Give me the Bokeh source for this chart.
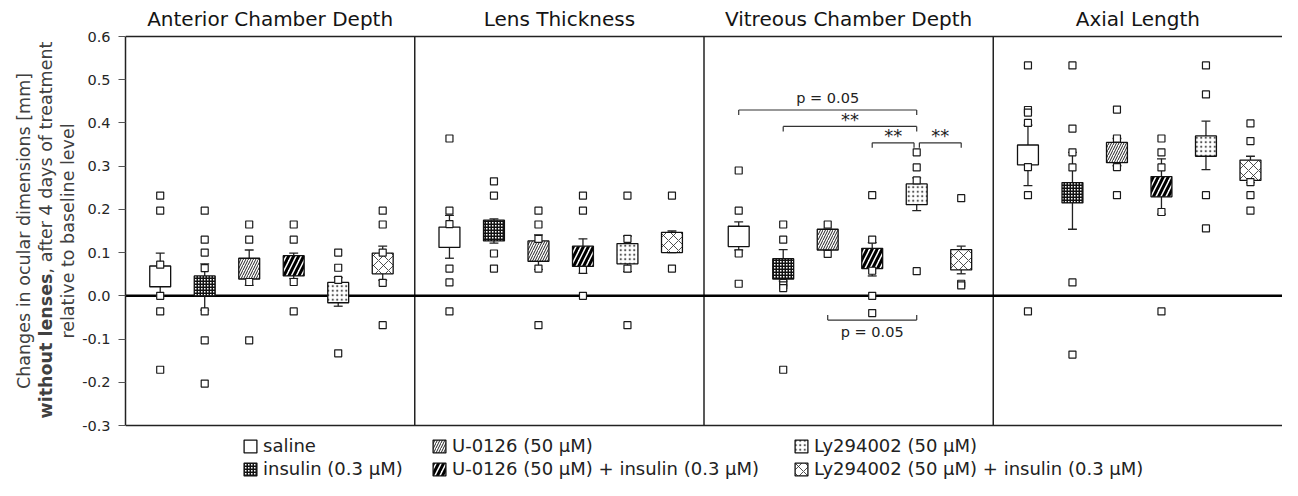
from math import pi
from bokeh.plotting import figure
from bokeh.layouts import row
from bokeh.models import (ColumnDataSource, Range1d, FixedTicker, PrintfTickFormatter,
                          Legend, LegendItem)
from bokeh.core.properties import value
from bokeh.embed import file_html
from bokeh.resources import INLINE

# ---------------- data ----------------
panel_titles = ["Anterior Chamber Depth", "Lens Thickness", "Vitreous Chamber Depth", "Axial Length"]
group_labels = ["saline", "insulin (0.3 μM)", "U-0126 (50 μM)",
                "U-0126 (50 μM) + insulin (0.3 μM)", "Ly294002 (50 μM)",
                "Ly294002 (50 μM) + insulin (0.3 μM)"]
y_ticks = [-0.3, -0.2, -0.1, 0.0, 0.1, 0.2, 0.3, 0.4, 0.5, 0.6]
y_title_lines = ["Changes in ocular dimensions [mm]",
                 "without lenses", ", after 4 days of treatment",
                 "relative to baseline level"]

acd_box_low = [0.021, 0.000, 0.039, 0.046, -0.016, 0.051]
acd_box_high = [0.069, 0.046, 0.087, 0.093, 0.031, 0.099]
acd_whisk_low = [0.000, -0.033, 0.024, 0.040, -0.024, 0.036]
acd_whisk_high = [0.099, 0.074, 0.106, 0.099, 0.042, 0.115]
acd_points = [[0.232, 0.197, 0.072, 0.0, -0.036, -0.171],
              [0.197, 0.130, 0.100, 0.064, -0.036, -0.103, -0.203],
              [0.165, 0.130, 0.032, -0.103],
              [0.165, 0.130, 0.032, -0.036],
              [0.100, 0.065, 0.037, -0.133],
              [0.197, 0.165, 0.100, 0.030, -0.068]]

lt_box_low = [0.112, 0.127, 0.080, 0.068, 0.074, 0.100]
lt_box_high = [0.159, 0.175, 0.127, 0.115, 0.121, 0.147]
lt_whisk_low = [0.087, 0.122, 0.061, 0.052, 0.056, 0.100]
lt_whisk_high = [0.186, 0.178, 0.141, 0.132, 0.138, 0.150]
lt_points = [[0.364, 0.197, 0.166, 0.063, 0.031, -0.036],
             [0.265, 0.232, 0.098, 0.063],
             [0.197, 0.165, 0.132, 0.063, -0.068],
             [0.232, 0.197, 0.060, 0.0],
             [0.232, 0.132, 0.063, -0.068],
             [0.232, 0.063]]

vcd_box_low = [0.114, 0.039, 0.106, 0.063, 0.211, 0.060]
vcd_box_high = [0.161, 0.086, 0.154, 0.110, 0.259, 0.107]
vcd_whisk_low = [0.106, 0.034, 0.106, 0.046, 0.197, 0.051]
vcd_whisk_high = [0.171, 0.107, 0.154, 0.123, 0.273, 0.115]
vcd_points = [[0.290, 0.197, 0.098, 0.028],
              [0.165, 0.130, 0.030, 0.024, 0.018, -0.171],
              [0.165, 0.097],
              [0.233, 0.130, 0.058, 0.0, -0.040],
              [0.332, 0.297, 0.267, 0.057],
              [0.226, 0.028, 0.024]]

al_box_low = [0.303, 0.215, 0.308, 0.229, 0.323, 0.267]
al_box_high = [0.349, 0.262, 0.355, 0.276, 0.370, 0.314]
al_whisk_low = [0.255, 0.154, 0.301, 0.189, 0.292, 0.262]
al_whisk_high = [0.395, 0.332, 0.364, 0.317, 0.404, 0.323]
al_points = [[0.533, 0.430, 0.424, 0.400, 0.298, 0.233, -0.036],
             [0.533, 0.387, 0.332, 0.297, 0.031, -0.136],
             [0.431, 0.364, 0.298, 0.233],
             [0.364, 0.332, 0.297, 0.194, -0.036],
             [0.533, 0.466, 0.233, 0.156],
             [0.399, 0.358, 0.263, 0.233, 0.197]]

# significance brackets (Vitreous Chamber Depth panel), group indices
sig_left = [0, 1, 3, 4.06, 2]
sig_right = [4, 4, 3.94, 5, 4]
sig_y = [0.430, 0.392, 0.354, 0.354, -0.056]
sig_text = ["p = 0.05", "**", "**", "**", "p = 0.05"]

# ---------------- layout constants ----------------
W, H = 1282, 480
YLAB_W = 78
FRAME_LEFT = 125
FRAME_TOP, FRAME_BOTTOM = 36, 425   # pixel rows of 0.6 and -0.3
PXU = (FRAME_BOTTOM - FRAME_TOP) / 0.9
Y_TOP = 0.6 + FRAME_TOP / PXU
Y_BOT = -0.3 - (H - FRAME_BOTTOM) / PXU

PANEL_W = 6.5
OFFSET = 0.78
BOX_W = 0.47
CAP_W = 0.2
PANEL_OF_SIG = 2

box_low = [acd_box_low, lt_box_low, vcd_box_low, al_box_low]
box_high = [acd_box_high, lt_box_high, vcd_box_high, al_box_high]
whisk_low = [acd_whisk_low, lt_whisk_low, vcd_whisk_low, al_whisk_low]
whisk_high = [acd_whisk_high, lt_whisk_high, vcd_whisk_high, al_whisk_high]
points = [acd_points, lt_points, vcd_points, al_points]

styles = [
    dict(fill_color="white"),
    dict(fill_color="white", hatch_pattern="cross", hatch_scale=3, hatch_weight=2, hatch_color="#111111"),
    dict(fill_color="white", hatch_pattern="right_diagonal_line", hatch_scale=5, hatch_weight=1, hatch_color="#222222"),
    dict(fill_color="white", hatch_pattern="right_diagonal_line", hatch_scale=10, hatch_weight=3, hatch_color="black"),
    dict(fill_color="white", hatch_pattern="dot", hatch_scale=4.5, hatch_weight=0.5, hatch_color="#555555"),
    dict(fill_color="white", hatch_pattern="diagonal_cross", hatch_scale=10, hatch_weight=0.8, hatch_color="#222222"),
]

y_range = Range1d(Y_BOT, Y_TOP)
x_range = Range1d(0, 4 * PANEL_W)

p = figure(width=W - YLAB_W, height=H, x_range=x_range, y_range=y_range,
           output_backend="svg", toolbar_location=None, x_axis_location=None,
           min_border_left=FRAME_LEFT - YLAB_W, min_border_right=0, min_border_top=0, min_border_bottom=0)
p.grid.visible = False
p.outline_line_color = None
p.background_fill_color = "white"
p.border_fill_color = "white"

ax = p.yaxis[0]
ax.ticker = FixedTicker(ticks=y_ticks)
ax.bounds = (-0.3, 0.6)
ax.formatter = PrintfTickFormatter(format="%.1f")
ax.major_label_text_font = "DejaVu Sans"
ax.major_label_text_font_size = "14.5px"
ax.major_label_text_color = "#262626"
ax.axis_line_width = 1.5
ax.axis_line_color = "#222222"
ax.major_tick_out = 7
ax.major_tick_in = 0
ax.major_tick_line_width = 1.2
ax.major_tick_line_color = "#555555"
ax.minor_tick_out = 0
ax.minor_tick_in = 0
ax.major_label_standoff = 8

# frame lines (top, bottom) and panel dividers
p.segment(x0=[0, 0], y0=[0.6, -0.3], x1=[4 * PANEL_W] * 2, y1=[0.6, -0.3],
          line_color="#222222", line_width=1.5)
div_x = [k * PANEL_W for k in range(1, 4)]
p.segment(x0=div_x, y0=[-0.3] * 3, x1=div_x, y1=[0.6] * 3, line_color="#222222", line_width=1.5)
p.segment(x0=[0], y0=[0], x1=[4 * PANEL_W], y1=[0], line_color="black", line_width=2.5)

# whiskers (drawn first)
sx, sy0, sy1 = [], [], []
cx0, cx1, cy = [], [], []
for k in range(4):
    for g in range(6):
        x = k * PANEL_W + OFFSET + g
        sx.append(x); sy0.append(whisk_low[k][g]); sy1.append(whisk_high[k][g])
        for yv in (whisk_low[k][g], whisk_high[k][g]):
            cx0.append(x - CAP_W / 2); cx1.append(x + CAP_W / 2); cy.append(yv)
p.segment(x0=sx, y0=sy0, x1=sx, y1=sy1, line_color="#222222", line_width=1.3)
p.segment(x0=cx0, y0=cy, x1=cx1, y1=cy, line_color="#222222", line_width=1.3)

# boxes
box_renderers = []
for g in range(6):
    xs = [k * PANEL_W + OFFSET + g for k in range(4)]
    src = ColumnDataSource(dict(x=xs, bottom=[box_low[k][g] for k in range(4)],
                                top=[box_high[k][g] for k in range(4)]))
    r = p.vbar(x="x", bottom="bottom", top="top", width=BOX_W, source=src,
               line_color="#111111", line_width=1.3, **styles[g])
    box_renderers.append(r)

# individual points
px, py = [], []
for k in range(4):
    for g in range(6):
        for v in points[k][g]:
            px.append(k * PANEL_W + OFFSET + g)
            py.append(v)
p.scatter(px, py, marker="square", size=7, fill_color="white", line_color="#1a1a1a", line_width=1.2)

# significance brackets
bx0, bx1, by, tx0, ty0, ty1, lx, ly, lsize = [], [], [], [], [], [], [], [], []
for i in range(len(sig_text)):
    base = PANEL_OF_SIG * PANEL_W + OFFSET
    a = base + sig_left[i]
    b = base + sig_right[i]
    bx0.append(a); bx1.append(b); by.append(sig_y[i])
    up = sig_y[i] > 0
    d = (-5 if up else 5) / PXU
    for xx in (a, b):
        tx0.append(xx); ty0.append(sig_y[i]); ty1.append(sig_y[i] + d)
    lx.append((a + b) / 2)
    if sig_text[i] == "**":
        ly.append(sig_y[i] + 7 / PXU); lsize.append("18px")
    elif up:
        ly.append(sig_y[i] + 12 / PXU); lsize.append("14.5px")
    else:
        ly.append(sig_y[i] - 12 / PXU); lsize.append("14.5px")
p.segment(x0=bx0, y0=by, x1=bx1, y1=by, line_color="#333333", line_width=1.2)
p.segment(x0=tx0, y0=ty0, x1=tx0, y1=ty1, line_color="#333333", line_width=1.2)
p.text(x=lx, y=ly, text=sig_text, text_font=value("DejaVu Sans"), text_font_size=lsize,
       text_color="#222222", text_align="center", text_baseline="middle")

# panel titles
p.text(x=[k * PANEL_W + PANEL_W / 2 for k in range(4)], y=[0.6 + 18 / PXU] * 4, text=panel_titles,
       text_font=value("DejaVu Sans"), text_font_size="20px", text_color="#141414",
       text_align="center", text_baseline="middle")

# legend: three columns of two items
col_x = [117, 306, 668]
for c in range(3):
    items = [LegendItem(label=group_labels[2 * c + j], renderers=[box_renderers[2 * c + j]]) for j in range(2)]
    leg = Legend(items=items, location=(col_x[c], 1), orientation="vertical",
                 glyph_width=16, glyph_height=16, label_standoff=5, spacing=2,
                 padding=0, margin=0, border_line_color=None, background_fill_alpha=0,
                 label_text_font="DejaVu Sans", label_text_font_size="18px",
                 label_text_color="#222222", label_height=18)
    p.add_layout(leg)

# y-axis title in its own strip (three lines, first part of line two bold)
q = figure(width=YLAB_W, height=H, x_range=Range1d(0, YLAB_W), y_range=y_range,
           output_backend="svg", toolbar_location=None, x_axis_location=None, y_axis_location=None,
           min_border_left=0, min_border_right=0, min_border_top=0, min_border_bottom=0)
q.grid.visible = False
q.outline_line_color = None
q.border_fill_color = "white"
bold_len, reg_len = 141, 226
center_px = (FRAME_TOP + FRAME_BOTTOM) / 2
split_px = center_px + (bold_len + reg_len) / 2 - bold_len
split_y = 0.6 - (split_px - FRAME_TOP) / PXU
mid_y = 0.6 - (center_px - FRAME_TOP) / PXU
q.text(x=[23, 45, 45, 67], y=[mid_y, split_y, split_y, mid_y], text=y_title_lines,
       angle=pi / 2, text_align=["center", "right", "left", "center"],
       text_font_style=["normal", "bold", "normal", "normal"],
       text_font=value("DejaVu Sans"), text_font_size="17.5px", text_color="#404040",
       text_baseline="middle")

layout = row(q, p)
open("out.html", "w").write(file_html(layout, INLINE))
